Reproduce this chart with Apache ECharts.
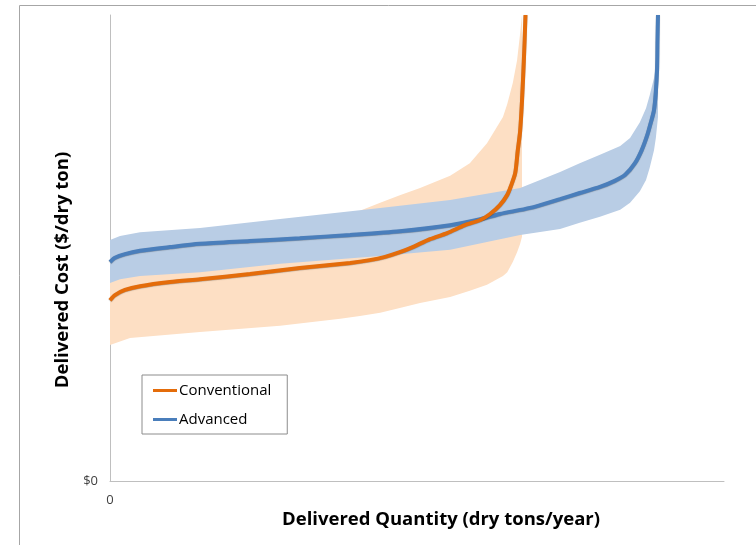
<!DOCTYPE html>
<html><head><meta charset="utf-8">
<script src="https://cdn.jsdelivr.net/npm/echarts@6/dist/echarts.min.js"></script>
<style>html,body{margin:0;padding:0;background:#fff}#c{width:756px;height:545px}</style>
</head><body><div id="c"></div>
<script>
// Conventional (orange) median curve
const convX = [0, 0.81, 2.44, 4.89, 9.77, 14.66, 22.8, 30.9, 39.1, 42.3, 44.8, 47.2, 49.3, 52.1, 54.9, 57.8, 60.3, 61.9, 63.5, 64.7, 65.3, 66.0, 66.4, 66.8, 67.1, 67.4, 67.67];
const convY = [38.8, 39.9, 41.0, 41.8, 42.7, 43.3, 44.4, 45.7, 46.8, 47.4, 48.1, 49.1, 50.2, 51.9, 53.2, 54.9, 56.0, 57.3, 59.2, 61.4, 63.3, 66.1, 70.8, 75.1, 81.5, 90.1, 100];
// Conventional uncertainty band
const convBandX  = [0, 3.26, 14.66, 27.7, 37.5, 40.7, 44.0, 47.2, 50.5, 55.4, 58.6, 61.4, 64.0, 64.7, 65.6, 66.3, 66.8, 67.1];
const convBandLo = [29.2, 30.7, 32.0, 33.3, 34.8, 35.4, 36.1, 37.1, 38.2, 39.5, 40.8, 42.1, 44.0, 44.8, 47.0, 49.1, 50.9, 52.4];
const convBandHi = [43.1, 44.2, 46.1, 49.6, 55.4, 58.0, 59.7, 61.3, 62.9, 65.5, 68.2, 72.5, 78.1, 80.9, 85.4, 90.3, 96.1, 100];
// Advanced (blue) median curve
const advX = [0, 0.81, 2.44, 4.89, 9.77, 14.66, 22.8, 30.9, 39.1, 47.2, 55.4, 60.3, 63.5, 68.4, 73.3, 76.5, 79.8, 82.2, 83.9, 85.5, 86.6, 87.5, 88.1, 88.6, 88.9, 89.1, 89.17, 89.25];
const advY = [47.0, 47.9, 48.7, 49.4, 50.2, 50.9, 51.5, 52.1, 52.8, 53.6, 54.9, 56.2, 57.3, 58.6, 60.5, 61.8, 63.1, 64.4, 65.7, 68.2, 71.0, 74.2, 77.0, 79.6, 83.5, 88.2, 94.6, 100];
// Advanced uncertainty band
const advBandX  = [0, 1.63, 4.89, 14.66, 27.7, 44.0, 55.4, 66.8, 73.3, 76.5, 79.8, 83.1, 84.7, 86.3, 87.3, 87.9, 88.6, 88.9, 89.25];
const advBandLo = [42.5, 43.3, 44.0, 44.8, 46.6, 48.3, 49.6, 52.8, 54.1, 55.4, 56.7, 58.2, 59.7, 62.2, 64.6, 67.2, 71.0, 73.6, 78.1];
const advBandHi = [51.7, 52.6, 53.4, 54.3, 56.2, 58.6, 60.3, 62.9, 66.3, 68.2, 70.0, 71.9, 73.6, 77.0, 80.0, 82.8, 86.5, 90.3, 100];
// Axis tick labels
const xTickLabels = {0: '0'};
const yTickLabels = {0: '$0'};

const ORANGE = '#e46c0a', BLUE = '#4a7ebb';
const ORANGE_BAND = '#fddfc4', BLUE_BAND = '#b9cde5';

function bandSeries(name, xs, lo, hi, color, z) {
  return {
    type: 'custom', name: name, silent: true, z: z,
    data: xs.map((x, i) => [x, lo[i], hi[i]]),
    encode: {x: 0, y: [1, 2]},
    renderItem: function (params, api) {
      if (params.dataIndex !== 0) return;
      const pts = [];
      for (let i = 0; i < xs.length; i++) pts.push(api.coord([xs[i], hi[i]]));
      for (let i = xs.length - 1; i >= 0; i--) pts.push(api.coord([xs[i], lo[i]]));
      return {type: 'polygon', shape: {points: pts}, style: {fill: color}};
    }
  };
}
function lineSeries(name, xs, ys, color, z) {
  return {
    type: 'line', name: name, z: z, showSymbol: false, symbol: 'none',
    smooth: 0.25, color: color,
    data: xs.map((x, i) => [x, ys[i]]),
    lineStyle: {color: color, width: 4, shadowColor: 'rgba(0,0,0,0.3)', shadowBlur: 1, shadowOffsetY: 0.5}
  };
}

const chart = echarts.init(document.getElementById('c'), null, {renderer: 'canvas'});
const axisCommon = {
  type: 'value', min: 0, max: 100, interval: 100,
  splitLine: {show: false}, axisTick: {show: false},
  axisLine: {show: true, lineStyle: {color: '#bfbfbf', width: 1}}
};
chart.setOption({
  animation: false,
  backgroundColor: '#ffffff',
  grid: {left: 110, right: 32, top: 15, bottom: 64},
  xAxis: Object.assign({}, axisCommon, {
    axisLabel: {formatter: v => xTickLabels[v] || '', color: '#404040', fontSize: 13, fontFamily: 'Open Sans', margin: 13}
  }),
  yAxis: Object.assign({}, axisCommon, {
    axisLabel: {formatter: v => yTickLabels[v] || '', color: '#404040', fontSize: 13, fontFamily: 'Open Sans', margin: 12}
  }),
  legend: {
    data: ['Conventional', 'Advanced'], orient: 'vertical', left: 142, top: 375,
    icon: 'rect', itemWidth: 24, itemHeight: 3, itemGap: 14,
    borderColor: '#8c8c8c', borderWidth: 1, padding: [8, 16, 7, 11],
    textStyle: {fontSize: 15, color: '#000', fontFamily: 'Open Sans', padding: [0, 0, 0, -3]}
  },
  graphic: [
    {type: 'rect', shape: {x: 19.5, y: 5.5, width: 800, height: 700}, style: {fill: 'none', stroke: '#a6a6a6', lineWidth: 1}, silent: true},
    {type: 'text', x: 63, y: 270, rotation: Math.PI / 2,
     style: {text: 'Delivered Cost ($/dry ton)', font: 'bold 18.5px "Open Sans"', fill: '#000', textAlign: 'center', textVerticalAlign: 'middle'}},
    {type: 'text', x: 441, y: 520,
     style: {text: 'Delivered Quantity (dry tons/year)', font: 'bold 18.5px "Open Sans"', fill: '#000', textAlign: 'center', textVerticalAlign: 'middle'}}
  ],
  series: [
    bandSeries('Conventional range', convBandX, convBandLo, convBandHi, ORANGE_BAND, 1),
    bandSeries('Advanced range', advBandX, advBandLo, advBandHi, BLUE_BAND, 2),
    lineSeries('Advanced', advX, advY, BLUE, 3),
    lineSeries('Conventional', convX, convY, ORANGE, 4)
  ]
});
</script>
</body></html>
